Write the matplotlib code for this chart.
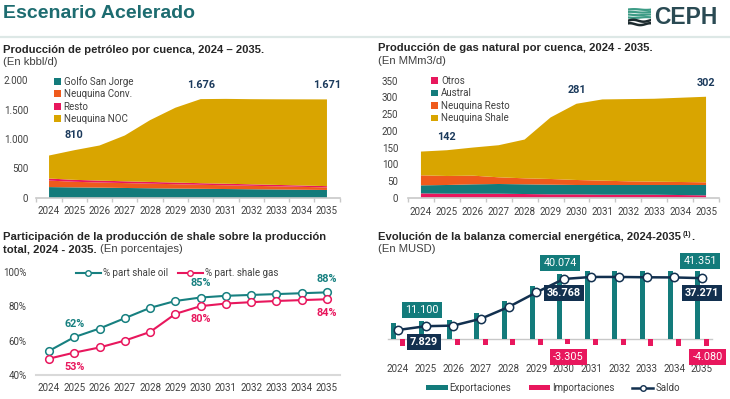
import numpy as np
import matplotlib
matplotlib.use('Agg')
from matplotlib import pyplot as plt
from matplotlib.patches import Patch
from matplotlib.lines import Line2D
from matplotlib.ticker import FuncFormatter

years = [2024, 2025, 2026, 2027, 2028, 2029, 2030, 2031, 2032, 2033, 2034, 2035]

# oil production by basin (kbbl/d)
oil_golfo = [185, 180, 176, 170, 165, 160, 156, 152, 148, 144, 140, 136]
oil_neuq_conv = [110, 95, 87, 83, 78, 74, 68, 64, 59, 54, 49, 43]
oil_resto = [35, 33, 32, 30, 29, 28, 27, 26, 25, 24, 23, 22]
oil_neuq_noc = [390, 502, 595, 777, 1048, 1268, 1425, 1438, 1443, 1451, 1460, 1470]

# gas production by basin (MMm3/d)
gas_otros = [13, 12, 12, 12, 11, 10, 10, 9, 9, 9, 8, 7]
gas_austral = [24, 26, 28, 29, 29, 29, 28, 29, 29, 29, 30, 31]
gas_neuq_resto = [30, 27, 26, 20, 18, 17, 15, 13, 11, 10, 9, 8]
gas_neuq_shale = [71, 77, 84, 96, 116, 184, 228, 243, 246, 248, 252, 256]

# shale share of total production (%)
shale_oil_pct = [54, 62, 67, 73, 79, 83, 85, 86, 86.5, 87, 87.5, 88]
shale_gas_pct = [49.5, 53, 56, 60, 65, 75.5, 80, 81.5, 82.3, 83, 83.5, 84]

# energy trade balance (MUSD)
exports = [9600, 11100, 11600, 15900, 23200, 32200, 40074, 41800, 41800, 41800, 41900, 41351]
imports = [-4100, -3271, -3400, -3500, -3600, -3700, -3305, -3800, -3800, -4000, -4200, -4080]
saldo = [5500, 7829, 8200, 12400, 19600, 28500, 36768, 38000, 38000, 37800, 37700, 37271]

W, H = 730, 399

TEAL = '#137b7b'
ORANGE = '#ef5a1c'
MAGENTA = '#e8175d'
GOLD = '#d9a500'
NAVY = '#12304f'
LABEL_NAVY = '#1b3a5c'
TITLE_TEAL = '#1d6c70'
GRAY = '#404040'
AXIS_GRAY = '#c8c8c8'

TITLE_FONT = 'Liberation Sans'
TICK_FONT = 'Roboto'
TITLE_SIZE = 8.1


def fx(px):
    return px / W


def fy(py):
    return 1 - py / H


def axes_rect(left, top, right, bottom):
    return [fx(left), fy(bottom), (right - left) / W, (bottom - top) / H]


def dot_thousands(v, pos=None):
    return f"{v:,.0f}".replace(',', '.')


def style_axis(ax, boundary_ticks=True):
    x = np.arange(len(years))
    ax.set_xlim(-0.5, len(years) - 0.5)
    ax.set_xticks(x)
    ax.set_xticklabels([str(y) for y in years], fontfamily=TICK_FONT, fontsize=7, color=GRAY)
    for side in ['top', 'right', 'left']:
        ax.spines[side].set_visible(False)
    ax.spines['bottom'].set_color(AXIS_GRAY)
    ax.spines['bottom'].set_linewidth(1.2)
    ax.tick_params(axis='x', length=0, pad=6)
    ax.tick_params(axis='y', length=0, pad=5, labelsize=7, labelcolor=GRAY)
    for lab in ax.get_yticklabels():
        lab.set_fontfamily(TICK_FONT)
    if boundary_ticks:
        ax.set_xticks(np.arange(-0.5, len(years)), minor=True)
        ax.tick_params(axis='x', which='minor', length=3, color=AXIS_GRAY, width=1)


def square_legend(ax, labels, colors, anchor):
    handles = [Patch(facecolor=c, edgecolor='none', label=l) for l, c in zip(labels, colors)]
    ax.legend(handles=handles, loc='upper left', bbox_to_anchor=anchor, frameon=False,
              borderpad=0, borderaxespad=0, handlelength=0.7, handleheight=0.7,
              handletextpad=0.3, labelspacing=0.25,
              prop={'family': TICK_FONT, 'size': 7}, labelcolor=GRAY)


def titles(fig):
    fig.text(fx(3), fy(13), 'Escenario Acelerado', fontfamily=TITLE_FONT, fontsize=14,
             fontweight='bold', color=TITLE_TEAL, va='center')
    fig.add_artist(Line2D([0, 1], [fy(37), fy(37)], color='#dde8e6', lw=1.6))

    # logo
    icon = fig.add_axes(axes_rect(628, 8, 651, 27))
    icon.set_xlim(0, 1)
    icon.set_ylim(0, 1)
    icon.axis('off')
    t = np.linspace(0, 1, 30)
    for i, yy in enumerate([0.92, 0.78, 0.64, 0.5]):
        icon.plot(t, yy + 0.02 * np.sin(t * 6 + i), color='#3d9c86', lw=1.6)
    for i, yy in enumerate([0.33, 0.15]):
        icon.plot(t, yy + 0.05 * np.sin(t * 7 + i), color='#1c2a2e', lw=1.8)
    fig.text(fx(654), fy(18), 'CEPH', fontfamily=TITLE_FONT, fontsize=16.5, fontweight='bold',
             color='#2a4a53', va='center')

    fig.text(fx(3), fy(50), 'Producción de petróleo por cuenca, 2024 – 2035.', fontfamily=TITLE_FONT,
             fontsize=TITLE_SIZE, fontweight='bold', color='#262626', va='center')
    fig.text(fx(3), fy(62), '(En kbbl/d)', fontfamily=TITLE_FONT, fontsize=TITLE_SIZE, color=GRAY, va='center')
    fig.text(fx(378), fy(48), 'Producción de gas natural por cuenca, 2024 - 2035.', fontfamily=TITLE_FONT,
             fontsize=TITLE_SIZE, fontweight='bold', color='#262626', va='center')
    fig.text(fx(378), fy(61), '(En MMm3/d)', fontfamily=TITLE_FONT, fontsize=TITLE_SIZE, color=GRAY, va='center')

    renderer = fig.canvas.get_renderer()

    fig.text(fx(3), fy(237), 'Participación de la producción de shale sobre la producción',
             fontfamily=TITLE_FONT, fontsize=TITLE_SIZE, fontweight='bold', color='#262626', va='center')
    t2 = fig.text(fx(3), fy(249), 'total, 2024 - 2035.', fontfamily=TITLE_FONT, fontsize=TITLE_SIZE,
                  fontweight='bold', color='#262626', va='center')
    bb = t2.get_window_extent(renderer)
    fig.text(bb.x1 / W + 0.004, fy(249), '(En porcentajes)', fontfamily=TITLE_FONT, fontsize=TITLE_SIZE,
             color=GRAY, va='center')

    t4 = fig.text(fx(378), fy(237), 'Evolución de la balanza comercial energética, 2024-2035',
                  fontfamily=TITLE_FONT, fontsize=TITLE_SIZE, fontweight='bold', color='#262626', va='center')
    bb = t4.get_window_extent(renderer)
    t5 = fig.text(bb.x1 / W + 0.002, fy(234), '(1)', fontfamily=TITLE_FONT, fontsize=5,
                  fontweight='bold', color='#262626', va='center')
    bb = t5.get_window_extent(renderer)
    fig.text(bb.x1 / W, fy(237), '.', fontfamily=TITLE_FONT, fontsize=TITLE_SIZE,
             fontweight='bold', color='#262626', va='center')
    fig.text(fx(378), fy(249), '(En MUSD)', fontfamily=TITLE_FONT, fontsize=TITLE_SIZE, color=GRAY, va='center')


def oil_chart(fig):
    ax = fig.add_axes(axes_rect(36.4, 80, 339.6, 198))
    x = np.arange(len(years))
    ax.stackplot(x, oil_golfo, oil_neuq_conv, oil_resto, oil_neuq_noc,
                 colors=[TEAL, ORANGE, MAGENTA, GOLD], linewidth=0)
    style_axis(ax)
    ax.set_ylim(0, 2000)
    ax.set_yticks([0, 500, 1000, 1500, 2000])
    ax.yaxis.set_major_formatter(FuncFormatter(dot_thousands))
    ax.tick_params(axis='y', pad=6)

    totals = np.array(oil_golfo) + np.array(oil_neuq_conv) + np.array(oil_resto) + np.array(oil_neuq_noc)
    for i, yy in [(1, 1060), (6, 1910), (11, 1910)]:
        ax.text(i, yy, dot_thousands(totals[i]), ha='center', va='center', fontfamily=TICK_FONT,
                fontsize=7.8, fontweight='bold', color=LABEL_NAVY)

    square_legend(ax, ['Golfo San Jorge', 'Neuquina Conv.', 'Resto', 'Neuquina NOC'],
                  [TEAL, ORANGE, MAGENTA, GOLD], (0.058, 1.035))


def gas_chart(fig):
    ax = fig.add_axes(axes_rect(408, 80.7, 719, 197.7))
    x = np.arange(len(years))
    ax.stackplot(x, gas_otros, gas_austral, gas_neuq_resto, gas_neuq_shale,
                 colors=[MAGENTA, TEAL, ORANGE, GOLD], linewidth=0)
    style_axis(ax)
    ax.set_ylim(0, 350)
    ax.set_yticks(np.arange(0, 351, 50))
    ax.tick_params(axis='y', pad=7)
    ax.tick_params(axis='x', pad=7)

    totals = np.array(gas_otros) + np.array(gas_austral) + np.array(gas_neuq_resto) + np.array(gas_neuq_shale)
    for i, yy in [(1, 181), (6, 323), (11, 343)]:
        ax.text(i, yy, str(totals[i]), ha='center', va='center', fontfamily=TICK_FONT,
                fontsize=7.8, fontweight='bold', color=LABEL_NAVY)

    square_legend(ax, ['Otros', 'Austral', 'Neuquina Resto', 'Neuquina Shale'],
                  [MAGENTA, TEAL, ORANGE, GOLD], (0.075, 1.04))


def share_chart(fig):
    ax = fig.add_axes(axes_rect(36.4, 271.7, 339.6, 375))
    x = np.arange(len(years))
    ax.plot(x, shale_oil_pct, color='#178080', lw=1.5, marker='o', ms=5.5, mfc='white',
            mec='#178080', mew=1.1)
    ax.plot(x, shale_gas_pct, color=MAGENTA, lw=1.5, marker='o', ms=5.5, mfc='white',
            mec=MAGENTA, mew=1.1)
    style_axis(ax, boundary_ticks=False)
    ax.spines['bottom'].set_color('#d9d9d9')
    ax.spines['bottom'].set_linewidth(1.5)
    ax.set_ylim(40, 100)
    ax.set_yticks([40, 60, 80, 100])
    ax.yaxis.set_major_formatter(FuncFormatter(lambda v, p: f"{v:.0f}%"))
    ax.tick_params(axis='y', pad=7)
    ax.tick_params(axis='x', pad=6)

    for i, yy in [(1, 69.6), (6, 93.6), (11, 96)]:
        ax.text(i, yy, f"{shale_oil_pct[i]:.0f}%", ha='center', va='center', fontfamily=TICK_FONT,
                fontsize=7.8, fontweight='bold', color='#178080')
    for i, yy in [(1, 44.9), (6, 72.3), (11, 76)]:
        ax.text(i, yy, f"{shale_gas_pct[i]:.0f}%", ha='center', va='center', fontfamily=TICK_FONT,
                fontsize=7.8, fontweight='bold', color=MAGENTA)

    handles = [Line2D([], [], color='#178080', lw=1.5, marker='o', ms=4, mfc='white', mec='#178080',
                      label='% part shale oil'),
               Line2D([], [], color=MAGENTA, lw=1.5, marker='o', ms=4, mfc='white', mec=MAGENTA,
                      label='% part. shale gas')]
    fig.legend(handles=handles, loc='center', bbox_to_anchor=(fx(177), fy(273)), ncol=2,
               frameon=False, handlelength=2.6, handletextpad=0.2, columnspacing=1.0,
               prop={'family': TICK_FONT, 'size': 7}, labelcolor=GRAY)


def balance_chart(fig):
    ax = fig.add_axes(axes_rect(384.2, 254.1, 715.8, 360.2))
    x = np.arange(len(years))
    ax.bar(x - 0.15, exports, width=0.18, color=TEAL, zorder=2)
    ax.bar(x + 0.15, imports, width=0.18, color=MAGENTA, zorder=2)
    ax.axhline(0, xmin=0.01, xmax=0.99, color=AXIS_GRAY, lw=1, zorder=1)
    ax.plot(x, saldo, color=NAVY, lw=1.8, marker='o', ms=6, mfc='white', mec=NAVY, mew=1.1, zorder=3)
    ax.set_xlim(-0.5, len(years) - 0.5)
    ax.set_ylim(-13000, 52000)
    for side in ax.spines:
        ax.spines[side].set_visible(False)
    ax.set_yticks([])
    ax.set_xticks(x)
    ax.set_xticklabels([str(y) for y in years], fontfamily=TICK_FONT, fontsize=7, color=GRAY)
    ax.tick_params(axis='x', length=0, pad=3)

    boxes = [
        (0.87, 17800, exports[1], TEAL, 'normal'),
        (0.94, -1800, saldo[1], NAVY, 'bold'),
        (5.87, 46500, exports[6], TEAL, 'normal'),
        (6.0, 28200, saldo[6], NAVY, 'bold'),
        (6.16, -11000, imports[6], MAGENTA, 'normal'),
        (10.94, 47800, exports[11], TEAL, 'normal'),
        (11.0, 28200, saldo[11], NAVY, 'bold'),
        (11.2, -11000, imports[11], MAGENTA, 'normal'),
    ]
    for bx, by, val, col, weight in boxes:
        txt = dot_thousands(val)
        if val < 0:
            txt = '-' + dot_thousands(-val)
        ax.text(bx, by, txt, ha='center', va='center', fontfamily=TICK_FONT, fontsize=7.8,
                fontweight=weight, color='white', zorder=5,
                bbox=dict(boxstyle='square,pad=0.3', fc=col, ec='none'))

    handles = [Patch(facecolor=TEAL, label='Exportaciones'),
               Patch(facecolor=MAGENTA, label='Importaciones'),
               Line2D([], [], color=NAVY, lw=1.8, marker='o', ms=4, mfc='white', mec=NAVY, label='Saldo')]
    fig.legend(handles=handles, loc='center', bbox_to_anchor=(fx(553), fy(388)), ncol=3,
               frameon=False, handlelength=2.2, handleheight=0.45, handletextpad=0.2,
               columnspacing=1.8, prop={'family': TICK_FONT, 'size': 7}, labelcolor=GRAY)


def main():
    fig = plt.figure(figsize=(W / 100, H / 100), dpi=100)
    titles(fig)
    oil_chart(fig)
    gas_chart(fig)
    share_chart(fig)
    balance_chart(fig)
    fig.savefig('out.png', dpi=100)


main()
